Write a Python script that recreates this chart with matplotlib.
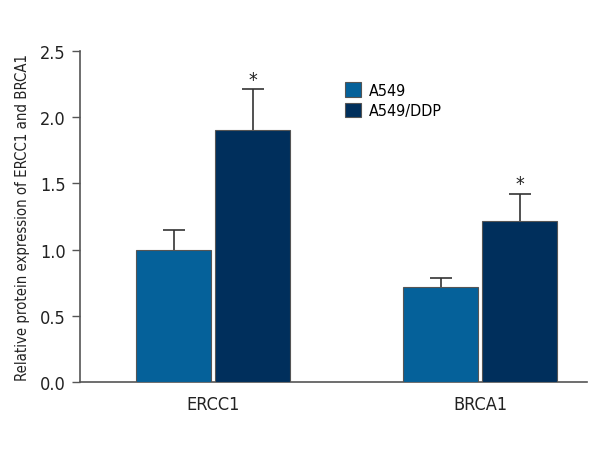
import numpy as np
import matplotlib.pyplot as plt

# 数据
genes = ['ERCC1', 'BRCA1']
groups = ['A549', 'A549/DDP']
a549_mean = [1.00, 0.72]
a549_err = [0.15, 0.07]
ddp_mean = [1.90, 1.22]
ddp_err = [0.31, 0.20]
sig_marks = ['*', '*']

COLORS = ['#05619a', '#002f5c']

plt.rcParams['font.family'] = ['DejaVu Sans']
plt.rcParams['font.stretch'] = 'condensed'

fig = plt.figure(figsize=(6, 4.6), dpi=100)
ax = fig.add_axes([0.133, 0.167, 0.845, 0.72])

x = np.arange(len(genes))
w = 0.28
gap = 0.008

ax.bar(x - w / 2 - gap, a549_mean, w, color=COLORS[0], edgecolor='#555555',
       linewidth=0.8, label=groups[0], zorder=3)
ax.bar(x + w / 2 + gap, ddp_mean, w, color=COLORS[1], edgecolor='#555555',
       linewidth=0.8, label=groups[1], zorder=3)

# 只画上半部分误差线
for xs, m, e in [(x - w / 2 - gap, a549_mean, a549_err), (x + w / 2 + gap, ddp_mean, ddp_err)]:
    _, caps, _ = ax.errorbar(xs, m, yerr=[np.zeros(2), e], fmt='none',
                             ecolor='#333333', elinewidth=1.2, capsize=8,
                             capthick=1.2, zorder=2)
    caps[0].set_visible(False)

for xi, m, e, s in zip(x, ddp_mean, ddp_err, sig_marks):
    ax.text(xi + w / 2 + gap, m + e + 0.005, s, ha='center', va='bottom',
            fontsize=14, color='#222222')

ax.set_xlim(-0.5, 1.4)
ax.set_ylim(0, 2.5)
ax.set_yticks([0, 0.5, 1.0, 1.5, 2.0, 2.5])
ax.set_yticklabels(['0.0', '0.5', '1.0', '1.5', '2.0', '2.5'])
ax.set_xticks(x)
ax.set_xticklabels(genes)
ax.tick_params(axis='x', length=0, labelsize=13, pad=9, colors='#222222')
ax.tick_params(axis='y', length=6, width=1, labelsize=13, pad=4, colors='#555555',
               labelcolor='#222222')
ax.set_ylabel('Relative protein expression of ERCC1 and BRCA1', fontsize=10.7,
              color='#222222', labelpad=7)

for sp in ['top', 'right']:
    ax.spines[sp].set_visible(False)
for sp in ['left', 'bottom']:
    ax.spines[sp].set_color('#555555')
    ax.spines[sp].set_linewidth(1.2)

ax.legend(loc='upper left', bbox_to_anchor=(0.51, 0.925), frameon=False,
          fontsize=11.5, handlelength=1.0, handleheight=1.0, handletextpad=0.5,
          labelspacing=0.3, borderaxespad=0)

fig.savefig('out.png', dpi=100)
